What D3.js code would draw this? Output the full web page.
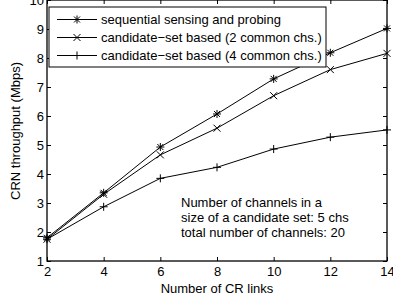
<!DOCTYPE html>
<html>
<head>
<meta charset="utf-8">
<script src="https://cdn.jsdelivr.net/npm/d3@7"></script>
<style>
body { margin: 0; background: white; }
text { font-family: "Liberation Sans", Arial, sans-serif; }
</style>
</head>
<body>
<div id="container"></div>
<script>
const width = 393;
const height = 307;
const fontSize = 13;

// data
const links = [2, 4, 6, 8, 10, 12, 14];
const sequential = [1.8, 3.35, 4.93, 6.07, 7.28, 8.18, 9.02];
const cand2 = [1.75, 3.3, 4.66, 5.58, 6.7, 7.6, 8.16];
const cand4 = [1.75, 2.87, 3.85, 4.23, 4.86, 5.27, 5.52];
const seriesNames = [
  "sequential sensing and probing",
  "candidate\u2212set based (2 common chs.)",
  "candidate\u2212set based (4 common chs.)"
];
const xTicks = [2, 4, 6, 8, 10, 12, 14];
const yTicks = [1, 2, 3, 4, 5, 6, 7, 8, 9, 10];
const noteLines = [
  "Number of channels in a",
  "size of a candidate set: 5 chs",
  "total number of channels: 20"
];

const series = [
  { name: seriesNames[0], values: sequential, marker: "star" },
  { name: seriesNames[1], values: cand2, marker: "x" },
  { name: seriesNames[2], values: cand4, marker: "plus" }
];

const plotLeft = 47, plotRight = 387, plotTop = 0, plotBottom = 261;

const x = d3.scaleLinear().domain([2, 14]).range([plotLeft, plotRight]);
const y = d3.scaleLinear().domain([1, 10]).range([plotBottom, plotTop]);

const svg = d3.select("#container").append("svg")
  .attr("width", width)
  .attr("height", height)
  .style("background-color", "white");

// axes, matlab style (ticks inside, box all round)
svg.append("g")
  .attr("transform", "translate(0," + plotBottom + ")")
  .call(d3.axisBottom(x).tickValues(xTicks).tickSize(-4).tickPadding(6).tickFormat(d3.format("d")))
  .call(g => g.select(".domain").remove())
  .selectAll("text").attr("font-size", fontSize).attr("fill", "black");

svg.append("g")
  .attr("transform", "translate(0," + plotTop + ")")
  .call(d3.axisTop(x).tickValues(xTicks).tickSize(-4).tickFormat(""))
  .call(g => g.select(".domain").remove());

svg.append("g")
  .attr("transform", "translate(" + plotLeft + ",0)")
  .call(d3.axisLeft(y).tickValues(yTicks).tickSize(-4).tickPadding(3).tickFormat(d3.format("d")))
  .call(g => g.select(".domain").remove())
  .selectAll("text").attr("font-size", fontSize).attr("fill", "black");

svg.append("g")
  .attr("transform", "translate(" + plotRight + ",0)")
  .call(d3.axisRight(y).tickValues(yTicks).tickSize(-4).tickFormat(""))
  .call(g => g.select(".domain").remove());

svg.selectAll(".tick line").attr("stroke", "black");

svg.append("rect")
  .attr("x", plotLeft).attr("y", plotTop)
  .attr("width", plotRight - plotLeft).attr("height", plotBottom - plotTop)
  .attr("fill", "none").attr("stroke", "black").attr("stroke-width", 1.3);

// axis labels
svg.append("text")
  .attr("x", (plotLeft + plotRight) / 2).attr("y", 293)
  .attr("text-anchor", "middle").attr("font-size", fontSize)
  .text("Number of CR links");

svg.append("text")
  .attr("transform", "translate(20,131) rotate(-90)")
  .attr("text-anchor", "middle").attr("font-size", fontSize)
  .text("CRN throughput (Mbps)");

// markers
function drawMarker(g, type, cx, cy) {
  let s = 4;
  if (type == "plus" || type == "star") {
    g.append("line").attr("x1", cx - s).attr("x2", cx + s).attr("y1", cy).attr("y2", cy);
    g.append("line").attr("x1", cx).attr("x2", cx).attr("y1", cy - s).attr("y2", cy + s);
  }
  if (type == "x" || type == "star") {
    let d = type == "star" ? 3 : 3.5;
    g.append("line").attr("x1", cx - d).attr("x2", cx + d).attr("y1", cy - d).attr("y2", cy + d);
    g.append("line").attr("x1", cx - d).attr("x2", cx + d).attr("y1", cy + d).attr("y2", cy - d);
  }
}

let line = d3.line().x((d, i) => x(links[i])).y(d => y(d));

series.forEach(function(s) {
  let g = svg.append("g").attr("stroke", "black").attr("stroke-width", 1).attr("fill", "none");
  g.append("path").attr("d", line(s.values));
  s.values.forEach(function(v, i) {
    drawMarker(g, s.marker, x(links[i]), y(v));
  });
});

// legend
let legend = svg.append("g");
legend.append("rect")
  .attr("x", 49).attr("y", 7).attr("width", 277).attr("height", 60)
  .attr("fill", "white").attr("stroke", "black").attr("stroke-width", 1);

series.forEach(function(s, i) {
  let ly = 19.5 + i * 18;
  let g = legend.append("g").attr("stroke", "black").attr("stroke-width", 1);
  g.append("line").attr("x1", 57).attr("x2", 97).attr("y1", ly).attr("y2", ly);
  drawMarker(g, s.marker, 77, ly);
  legend.append("text")
    .attr("x", 101).attr("y", ly + 4.5)
    .attr("font-size", fontSize)
    .text(s.name);
});

// note
svg.append("g").selectAll("text").data(noteLines).enter().append("text")
  .attr("x", 181)
  .attr("y", (d, i) => 207 + i * 15)
  .attr("font-size", fontSize)
  .text(d => d);
</script>
</body>
</html>
